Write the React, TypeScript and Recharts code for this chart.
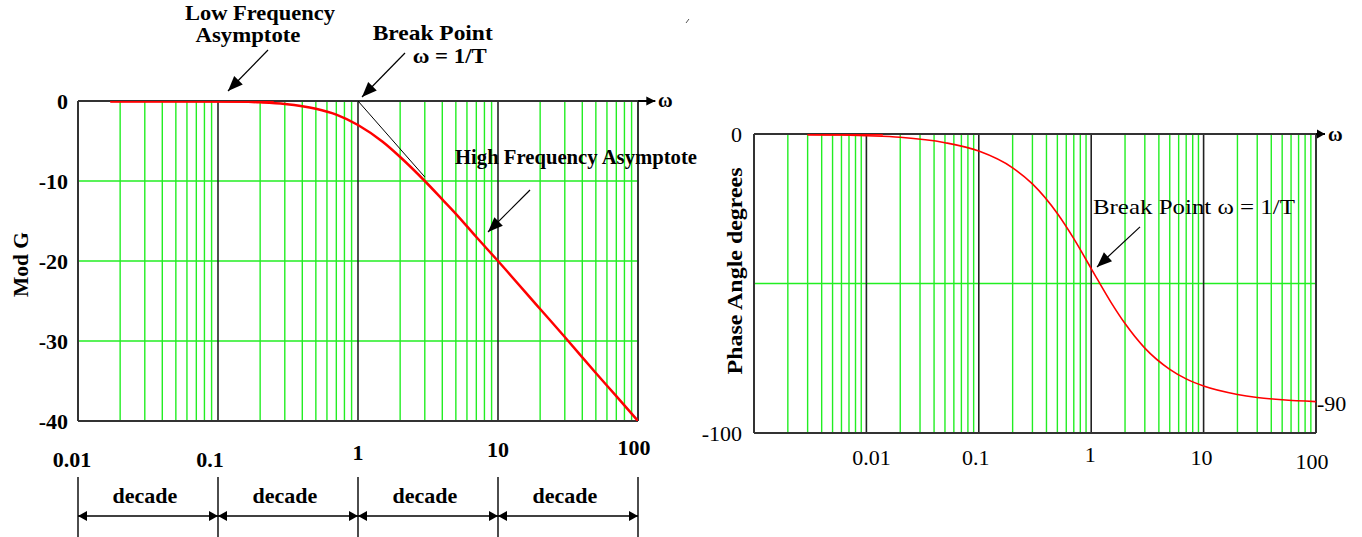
import React from 'react';
import { LineChart, Line, XAxis, YAxis, ReferenceLine, ReferenceDot } from 'recharts';

const FONT = '"Liberation Serif", "Times New Roman", serif';
const GREEN = '#22ee22';
const RED = '#ff0000';
const FRAME = '#333333';
const DECADE_LINE = '#222222';

// ---------------- Magnitude plot (left) ----------------
const magOmega = [0.017, 0.05, 0.1, 0.2, 0.3, 0.4, 0.5, 0.7, 1, 1.5, 2, 3, 4, 5, 7, 10, 20, 30, 50, 70, 100];
const magDb = [0, -0.01, -0.04, -0.17, -0.37, -0.65, -0.97, -1.7, -3.0, -5.1, -7.0, -10.0, -12.3, -14.1, -17.0, -20.0, -26.0, -29.5, -34.0, -36.9, -40.0];
const magLowAsymOmega = [0.017, 0.25];
const magLowAsymDb = [0, 0];
const magHighAsymOmega = [1, 3];
const magHighAsymDb = [0, -9.5];
const magGridOmega = [
  0.02, 0.03, 0.04, 0.05, 0.06, 0.07, 0.08, 0.09,
  0.2, 0.3, 0.4, 0.5, 0.6, 0.7, 0.8, 0.9,
  2, 3, 4, 5, 6, 7, 8, 9,
  20, 30, 40, 50, 60, 70, 80, 90,
];
const magDecadeOmega = [0.1, 1, 10];
const magGridDb = [-10, -20, -30];
const magXTicks = [0.01, 0.1, 1, 10, 100];
const magXLabels = ['0.01', '0.1', '1', '10', '100'];
const magYTicks = [0, -10, -20, -30, -40];
const decadeBounds = [0.01, 0.1, 1, 10, 100];
const decadeCenters = [0.03, 0.3, 3, 30];
const decadeText = 'decade';

// ---------------- Phase plot (right) ----------------
const phaseOmega = [0.003, 0.006, 0.01, 0.02, 0.05, 0.1, 0.2, 0.3, 0.5, 0.7, 1, 1.5, 2, 3, 5, 7, 10, 20, 30, 50, 100];
const phaseDeg = [-0.2, -0.35, -0.6, -1.1, -2.9, -5.7, -11.3, -16.7, -26.6, -35.0, -45.0, -56.3, -63.4, -71.6, -78.7, -81.9, -84.3, -87.1, -88.1, -88.9, -89.5];
const phaseLowOmega = [0.003, 0.014];
const phaseLowDeg = [0, 0];
const phaseGridOmega = [
  0.002, 0.003, 0.004, 0.005, 0.006, 0.007, 0.008, 0.009,
  0.02, 0.03, 0.04, 0.05, 0.06, 0.07, 0.08, 0.09,
  0.2, 0.3, 0.4, 0.5, 0.6, 0.7, 0.8, 0.9,
  2, 3, 4, 5, 6, 7, 8, 9,
  20, 30, 40, 50, 60, 70, 80, 90,
];
const phaseDecadeOmega = [0.01, 0.1, 1, 10];
const phaseGridDeg = [-50];
const phaseXTicks = [0.01, 0.1, 1, 10, 100];
const phaseXLabels = ['0.01', '0.1', '1', '10', '100'];
const phaseYTicks = [0, -100];
const phaseRightTicks = [-90];

const pts = (xs: number[], ys: number[]) => xs.map((w, i) => ({ w, v: ys[i] }));

const ok = (...n: number[]) => n.every((v) => Number.isFinite(v));

function headPoints(x1: number, y1: number, x2: number, y2: number, len: number, half: number) {
  const dx = x2 - x1;
  const dy = y2 - y1;
  const L = Math.hypot(dx, dy) || 1;
  const ux = dx / L;
  const uy = dy / L;
  const bx = x2 - ux * len;
  const by = y2 - uy * len;
  const px = -uy;
  const py = ux;
  return `${x2},${y2} ${bx + px * half},${by + py * half} ${bx - px * half},${by - py * half}`;
}

const arrowShape = (len: number, half: number, both: boolean, width: number) => (p: any) => {
  const { x1, y1, x2, y2 } = p;
  if (!ok(x1, y1, x2, y2)) return <g />;
  return (
    <g>
      <line x1={x1} y1={y1} x2={x2} y2={y2} stroke="#000" strokeWidth={width} />
      <polygon points={headPoints(x1, y1, x2, y2, len, half)} fill="#000" />
      {both && <polygon points={headPoints(x2, y2, x1, y1, len, half)} fill="#000" />}
    </g>
  );
};

const plainLine = (color: string, width: number) => (p: any) => {
  const { x1, y1, x2, y2 } = p;
  if (!ok(x1, y1, x2, y2)) return <g />;
  return <line x1={x1} y1={y1} x2={x2} y2={y2} stroke={color} strokeWidth={width} />;
};

type TextOpts = {
  anchor?: string;
  weight?: string | number;
  size?: number;
  len?: number;
  rotate?: boolean;
  dx?: number;
  dy?: number;
};

const textShape = (txt: string, o: TextOpts) => (p: any) => {
  const { cx, cy } = p;
  if (!ok(cx, cy)) return <g />;
  const x = cx + (o.dx || 0);
  const y = cy + (o.dy || 0);
  return (
    <text
      x={x}
      y={y}
      textAnchor={o.anchor || 'middle'}
      fontFamily={FONT}
      fontWeight={o.weight ?? 'bold'}
      fontSize={o.size ?? 22}
      fill="#000"
      textLength={o.len}
      lengthAdjust={o.len ? 'spacingAndGlyphs' : undefined}
      transform={o.rotate ? `rotate(-90 ${x} ${y})` : undefined}
    >
      {txt}
    </text>
  );
};

// two-line label drawn as one text block: lines centred, second line offset by given dx / gap
const twoLineShape = (l1: string, l2: string, dx2: number, gap: number, size: number, len1: number, len2: number) => (p: any) => {
  const { cx, cy } = p;
  if (!ok(cx, cy)) return <g />;
  return (
    <text x={cx} y={cy} textAnchor="middle" fontFamily={FONT} fontWeight="bold" fontSize={size} fill="#000">
      <tspan x={cx} y={cy} textLength={len1} lengthAdjust="spacingAndGlyphs">
        {l1}
      </tspan>
      <tspan x={cx + dx2} y={cy + gap} textLength={len2} lengthAdjust="spacingAndGlyphs">
        {l2}
      </tspan>
    </text>
  );
};

// label placement (dx px, baseline value on the y axis)
const magLabelPlace: Record<string, [number, number]> = {
  '0.01': [-6, -45.75],
  '0.1': [-8, -45.75],
  '1': [0, -44.9],
  '10': [0, -44.5],
  '100': [-4, -44.25],
};
const phaseLabelPlace: Record<string, [number, number]> = {
  '0.01': [5, -110.8],
  '0.1': [-3, -110.8],
  '1': [-1, -109.8],
  '10': [-2, -110.8],
  '100': [-4, -112.2],
};

function MagnitudeChart() {
  return (
    <LineChart width={760} height={537} margin={{ top: 101, right: 122, bottom: 116, left: 8 }}>
      <XAxis dataKey="w" type="number" scale="log" domain={[0.01, 100]} allowDataOverflow hide />
      <YAxis
        type="number"
        domain={[-40, 0]}
        allowDataOverflow
        ticks={magYTicks}
        interval={0}
        width={70}
        axisLine={false}
        tickLine={false}
        tickSize={0}
        tickMargin={10}
        tick={{ fontFamily: FONT, fontWeight: 'bold', fontSize: 22, fill: '#000' }}
      />
      {magGridOmega.map((w) => (
        <ReferenceLine key={'g' + w} x={w} stroke={GREEN} strokeWidth={1.4} ifOverflow="visible" />
      ))}
      {magGridDb.map((d) => (
        <ReferenceLine key={'h' + d} y={d} stroke={GREEN} strokeWidth={1.4} ifOverflow="visible" />
      ))}
      {magDecadeOmega.map((w) => (
        <ReferenceLine key={'d' + w} x={w} stroke={DECADE_LINE} strokeWidth={1.6} ifOverflow="visible" />
      ))}
      <ReferenceLine x={0.01} stroke={FRAME} strokeWidth={2} ifOverflow="visible" />
      <ReferenceLine x={100} stroke={FRAME} strokeWidth={2} ifOverflow="visible" />
      <ReferenceLine y={-40} stroke={FRAME} strokeWidth={2} ifOverflow="visible" />
      <ReferenceLine y={0} stroke={FRAME} strokeWidth={2} ifOverflow="visible" />
      {/* ω axis arrow */}
      <ReferenceLine segment={[{ x: 100, y: 0 }, { x: 133, y: 0 }]} ifOverflow="visible" shape={arrowShape(9, 4.5, false, 2)} />
      <ReferenceDot x={139} y={-0.75} r={0} ifOverflow="visible" shape={textShape('ω', { anchor: 'start', size: 20 })} />

      <Line data={pts(magHighAsymOmega, magHighAsymDb)} dataKey="v" stroke="#000" strokeWidth={1} dot={false} isAnimationActive={false} type="linear" />
      <Line data={pts(magOmega, magDb)} dataKey="v" stroke={RED} strokeWidth={2.5} dot={false} isAnimationActive={false} type="monotone" />
      <Line data={pts(magLowAsymOmega, magLowAsymDb)} dataKey="v" stroke={RED} strokeWidth={3.5} dot={false} isAnimationActive={false} type="linear" />

      {/* x tick labels */}
      {magXTicks.map((w, i) => (
        <ReferenceDot
          key={'xl' + w}
          x={w}
          y={magLabelPlace[magXLabels[i]][1]}
          r={0}
          ifOverflow="visible"
          shape={textShape(magXLabels[i], { dx: magLabelPlace[magXLabels[i]][0] })}
        />
      ))}

      {/* annotations */}
      <ReferenceDot
        x={0.1995}
        y={10.125}
        r={0}
        ifOverflow="visible"
        shape={twoLineShape('Low Frequency', 'Asymptote', -12, 22, 20, 150, 105)}
      />
      <ReferenceLine segment={[{ x: 0.2276, y: 6.375 }, { x: 0.1179, y: 1.25 }]} ifOverflow="visible" shape={arrowShape(15, 6, false, 1.2)} />

      <ReferenceDot x={3.417} y={7.625} r={0} ifOverflow="visible" shape={twoLineShape('Break Point', 'ω = 1/T', 17, 23, 22, 120, 74)} />
      <ReferenceLine segment={[{ x: 2.166, y: 6 }, { x: 1.068, y: 0.5 }]} ifOverflow="visible" shape={arrowShape(15, 6, false, 1.2)} />

      <ReferenceDot x={4.93} y={-7.875} r={0} ifOverflow="visible" shape={textShape('High Frequency Asymptote', { anchor: 'start', len: 242 })} />
      <ReferenceLine segment={[{ x: 16.93, y: -11.125 }, { x: 8.483, y: -16.375 }]} ifOverflow="visible" shape={arrowShape(15, 6, false, 1.2)} />

      <ReferenceDot x={0.0044} y={-20.44} r={0} ifOverflow="visible" shape={textShape('Mod G', { len: 65, rotate: true })} />

      {/* stray mark in the picture */}
      <ReferenceLine segment={[{ x: 220.3, y: 9.75 }, { x: 231.2, y: 10.25 }]} ifOverflow="visible" shape={plainLine('#555', 1)} />

      {/* decade markers */}
      {decadeBounds.map((w) => (
        <ReferenceLine key={'t' + w} segment={[{ x: w, y: -47 }, { x: w, y: -54.5 }]} ifOverflow="visible" shape={plainLine('#000', 1.4)} />
      ))}
      {decadeCenters.map((w, i) => (
        <ReferenceLine
          key={'a' + w}
          segment={[{ x: decadeBounds[i], y: -51.875 }, { x: decadeBounds[i + 1], y: -51.875 }]}
          ifOverflow="visible"
          shape={arrowShape(9, 5, true, 1.5)}
        />
      ))}
      {decadeCenters.map((w) => (
        <ReferenceDot key={'c' + w} x={w} y={-50.25} r={0} ifOverflow="visible" shape={textShape(decadeText, {})} />
      ))}
    </LineChart>
  );
}

function PhaseChart() {
  return (
    <LineChart width={682} height={537} margin={{ top: 134, right: 6, bottom: 104, left: 14 }}>
      <XAxis dataKey="w" type="number" scale="log" domain={[0.001, 100]} allowDataOverflow hide />
      <YAxis
        type="number"
        domain={[-100, 0]}
        allowDataOverflow
        ticks={phaseYTicks}
        interval={0}
        width={60}
        axisLine={false}
        tickLine={false}
        tickSize={0}
        tickMargin={12}
        tick={{ fontFamily: FONT, fontWeight: 'normal', fontSize: 22, fill: '#000' }}
      />
      <YAxis
        yAxisId="r"
        orientation="right"
        type="number"
        domain={[-100, 0]}
        allowDataOverflow
        ticks={phaseRightTicks}
        interval={0}
        width={40}
        axisLine={false}
        tickLine={false}
        tickSize={0}
        tickMargin={1}
        tick={{ fontFamily: FONT, fontWeight: 'normal', fontSize: 22, fill: '#000' }}
      />
      {phaseGridOmega.map((w) => (
        <ReferenceLine key={'g' + w} x={w} stroke={GREEN} strokeWidth={1.4} ifOverflow="visible" />
      ))}
      {phaseGridDeg.map((d) => (
        <ReferenceLine key={'h' + d} y={d} stroke={GREEN} strokeWidth={1.4} ifOverflow="visible" />
      ))}
      {phaseDecadeOmega.map((w) => (
        <ReferenceLine key={'d' + w} x={w} stroke={DECADE_LINE} strokeWidth={1.6} ifOverflow="visible" />
      ))}
      <ReferenceLine x={0.001} stroke={FRAME} strokeWidth={2} ifOverflow="visible" />
      <ReferenceLine x={100} stroke={FRAME} strokeWidth={2} ifOverflow="visible" />
      <ReferenceLine y={-100} stroke={FRAME} strokeWidth={2} ifOverflow="visible" />
      <ReferenceLine y={0} stroke={FRAME} strokeWidth={2} ifOverflow="visible" />
      <ReferenceLine segment={[{ x: 100, y: 0 }, { x: 120.3, y: 0 }]} ifOverflow="visible" shape={arrowShape(8, 4.5, false, 2)} />
      <ReferenceDot x={127.9} y={-2.25} r={0} ifOverflow="visible" shape={textShape('ω', { anchor: 'start', size: 20 })} />

      <Line data={pts(phaseOmega, phaseDeg)} dataKey="v" stroke={RED} strokeWidth={1.6} dot={false} isAnimationActive={false} type="monotone" />
      <Line data={pts(phaseLowOmega, phaseLowDeg)} dataKey="v" stroke={RED} strokeWidth={3} dot={false} isAnimationActive={false} type="linear" />

      {/* x tick labels */}
      {phaseXTicks.map((w, i) => (
        <ReferenceDot
          key={'xl' + w}
          x={w}
          y={phaseLabelPlace[phaseXLabels[i]][1]}
          r={0}
          ifOverflow="visible"
          shape={textShape(phaseXLabels[i], { dx: phaseLabelPlace[phaseXLabels[i]][0], weight: 'normal' })}
        />
      ))}

      <ReferenceDot x={1.037} y={-26.7} r={0} ifOverflow="visible" shape={textShape('Break Point ω = 1/T', { anchor: 'start', weight: 'normal', len: 202 })} />
      <ReferenceLine segment={[{ x: 2.72, y: -31.07 }, { x: 1.126, y: -44.47 }]} ifOverflow="visible" shape={arrowShape(15, 6, false, 1.2)} />
      <ReferenceDot x={0.000782} y={-45.8} r={0} ifOverflow="visible" shape={textShape('Phase Angle degrees', { len: 207, rotate: true })} />
    </LineChart>
  );
}

export default function App() {
  return (
    <div style={{ position: 'absolute', left: 0, top: 0, width: 1362, height: 537, background: '#fff', overflow: 'hidden' }}>
      <div style={{ position: 'absolute', left: 0, top: 0 }}>
        <MagnitudeChart />
      </div>
      <div style={{ position: 'absolute', left: 680, top: 0 }}>
        <PhaseChart />
      </div>
    </div>
  );
}
